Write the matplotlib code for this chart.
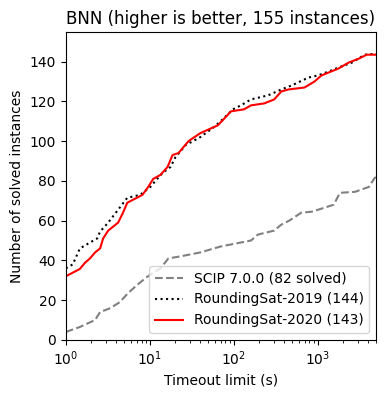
import numpy as np
from matplotlib import pyplot as plt

# SCIP 7.0.0
scip_t = [1, 1.47, 2.23, 2.56, 3.4, 4.4, 5.5, 7.1, 9.3, 13.4, 16.7, 23, 40, 70, 161, 195,
          305, 370, 460, 640, 850, 1110, 1560, 1850, 2800, 4100, 4800, 5000]
scip_n = [4, 6.5, 10, 14, 16, 19, 23.5, 27.7, 31.7, 36, 41, 42, 44, 47, 50, 53,
          55, 58, 60, 64, 64.5, 66, 68, 74, 74.5, 77, 81.5, 82]

# RoundingSat-2019
rs19_t = [1, 1.21, 1.47, 1.94, 2.36, 2.56, 3.2, 4.2, 5.4, 7.7, 10.2, 11.7, 14.2, 17.7, 20.3,
          26.8, 40, 58, 70, 98, 122, 161, 256, 370, 490, 780, 1000, 1350, 1770, 2560, 3650, 5000]
rs19_n = [36, 38, 46, 49, 51, 54.5, 59, 65.5, 71.5, 73, 77, 80, 84, 87, 92,
          98, 102, 107, 110, 116, 118, 121, 123, 126, 128, 132, 133, 135, 137, 139.5, 143.5, 144]

# RoundingSat-2020
rs20_t = [1, 1.47, 1.69, 1.94, 2.23, 2.56, 2.78, 3.2, 4.2, 4.8, 5.4, 8.2, 9.6, 11, 13.4, 16.3,
          18.7, 22, 29, 40, 65, 76, 93, 133, 161, 232, 305, 370, 450, 700, 920, 1110, 1350,
          1770, 2340, 3100, 3870, 5000]
rs20_n = [32, 35.7, 38.8, 41, 44, 46, 51, 55, 59, 64, 69, 73, 77, 81, 83, 87,
          93, 94, 100, 104, 108, 111, 115, 116, 118, 119, 121, 125, 126, 127, 130, 133, 134.5,
          136.5, 139.5, 141.5, 143.5, 143.5]

fig = plt.figure(figsize=(3.85, 3.98), dpi=100)
ax = fig.add_axes([0.171, 0.146, 0.806, 0.774])
ax.plot(scip_t, scip_n, '--', color='gray', label='SCIP 7.0.0 (82 solved)')
ax.plot(rs19_t, rs19_n, ':', color='black', label='RoundingSat-2019 (144)')
ax.plot(rs20_t, rs20_n, '-', color='red', label='RoundingSat-2020 (143)')
ax.set_xscale('log')
ax.set_xlim(1, 5000)
ax.set_ylim(0, 155)
ax.set_xlabel('Timeout limit (s)')
ax.set_ylabel('Number of solved instances')
ax.set_title('BNN (higher is better, 155 instances)')
ax.legend(loc='lower right')
fig.savefig('out.png')
